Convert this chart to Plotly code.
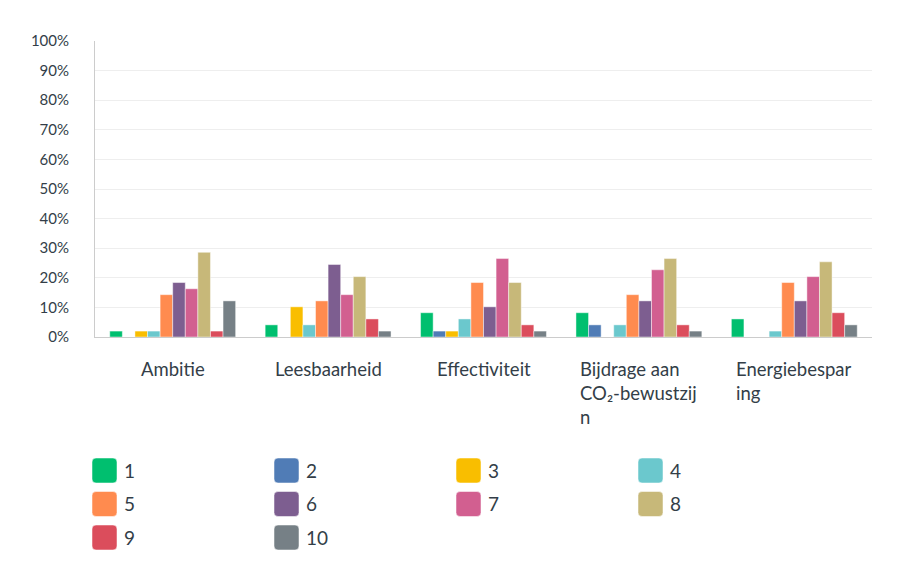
import plotly.graph_objects as go

categories = ["Ambitie", "Leesbaarheid", "Effectiviteit", "Bijdrage aan CO₂-bewustzijn", "Energiebesparing"]
category_labels = ["Ambitie", "Leesbaarheid", "Effectiviteit", "Bijdrage aan<br>CO₂-bewustzij<br>n", "Energiebespar<br>ing"]
series_names = ["1", "2", "3", "4", "5", "6", "7", "8", "9", "10"]
values = {
    "1":  [2.0, 4.1, 8.2, 8.2, 6.1],
    "2":  [0.0, 0.0, 2.0, 4.1, 0.0],
    "3":  [2.0, 10.2, 2.0, 0.0, 0.0],
    "4":  [2.0, 4.1, 6.1, 4.1, 2.0],
    "5":  [14.3, 12.2, 18.4, 14.3, 18.4],
    "6":  [18.4, 24.5, 10.2, 12.2, 12.2],
    "7":  [16.3, 14.3, 26.5, 22.7, 20.4],
    "8":  [28.6, 20.4, 18.4, 26.5, 25.4],
    "9":  [2.0, 6.1, 4.1, 4.1, 8.2],
    "10": [12.2, 2.0, 2.0, 2.0, 4.1],
}
colors = ["#00BF6F", "#507CB6", "#F9BE00", "#6BC8CD", "#FF8B4F",
          "#7D5E90", "#D25F90", "#C7B879", "#DB4D5C", "#768086"]
y_ticks = [0, 10, 20, 30, 40, 50, 60, 70, 80, 90, 100]

FONT = "Lato"
TXT = "#333e48"
OFF = 8  # page body margin
W, H = 897 - OFF, 576 - OFF
ML, MT = 95 - OFF, 41 - OFF
MR, MB = W - (872 - OFF), H - (337 - OFF)
PW, PH = W - ML - MR, H - MT - MB

fig = go.Figure()
for name, col in zip(series_names, colors):
    fig.add_trace(go.Bar(
        x=categories, y=values[name], name=name, showlegend=False,
        marker=dict(color=col, line=dict(color="rgba(255,255,255,0.45)", width=1)),
    ))

for cat, lab in zip(categories, category_labels):
    fig.add_annotation(x=cat, y=0, xref="x", yref="paper", text=lab,
                       showarrow=False, xanchor="center", yanchor="top",
                       align="left", yshift=-19,
                       font=dict(family=FONT, size=18.5, color=TXT))

# custom legend (4 columns, rounded swatches); positions given in page pixels
def px2x(px):
    return (px - OFF - ML) / PW

def px2y(py):
    return (H - MB - (py - OFF)) / PH

def rounded_rect(x0, y0, x1, y1, r):
    return (f"M {px2x(x0 + r)},{px2y(y0)} L {px2x(x1 - r)},{px2y(y0)} "
            f"Q {px2x(x1)},{px2y(y0)} {px2x(x1)},{px2y(y0 + r)} "
            f"L {px2x(x1)},{px2y(y1 - r)} Q {px2x(x1)},{px2y(y1)} {px2x(x1 - r)},{px2y(y1)} "
            f"L {px2x(x0 + r)},{px2y(y1)} Q {px2x(x0)},{px2y(y1)} {px2x(x0)},{px2y(y1 - r)} "
            f"L {px2x(x0)},{px2y(y0 + r)} Q {px2x(x0)},{px2y(y0)} {px2x(x0 + r)},{px2y(y0)} Z")

col_x = [92, 274, 456, 638]
row_y = [470.5, 504, 537.5]
sw = 25
for i, (name, col) in enumerate(zip(series_names, colors)):
    cx = col_x[i % 4]
    cy = row_y[i // 4]
    fig.add_shape(type="path", xref="paper", yref="paper",
                  path=rounded_rect(cx, cy - sw / 2, cx + sw, cy + sw / 2, 4),
                  fillcolor=col, line=dict(color="rgba(255,255,255,0.5)", width=1))
    fig.add_annotation(x=px2x(cx + sw + 5), y=px2y(cy), xref="paper", yref="paper",
                       text=name, showarrow=False, xanchor="left", yanchor="middle",
                       font=dict(family=FONT, size=19, color=TXT))

fig.update_layout(
    width=W, height=H,
    margin=dict(l=ML, r=MR, t=MT, b=MB, autoexpand=False),
    plot_bgcolor="white", paper_bgcolor="white",
    barmode="group", bargap=0.19, bargroupgap=0,
    font=dict(family=FONT, color=TXT),
    showlegend=False,
    xaxis=dict(showticklabels=False, showline=True, linecolor="#cccccc", linewidth=1,
               showgrid=False, ticks="", automargin=False),
    yaxis=dict(range=[0, 100], tickvals=y_ticks, ticktext=[f"{v}%" for v in y_ticks],
               showgrid=True, gridcolor="#eeeeee", gridwidth=1,
               showline=True, linecolor="#cccccc", linewidth=1,
               ticks="outside", ticklen=22, tickcolor="rgba(0,0,0,0)",
               tickfont=dict(family=FONT, size=15, color=TXT), zeroline=False,
               automargin=False),
)

fig.write_html("out.html")
